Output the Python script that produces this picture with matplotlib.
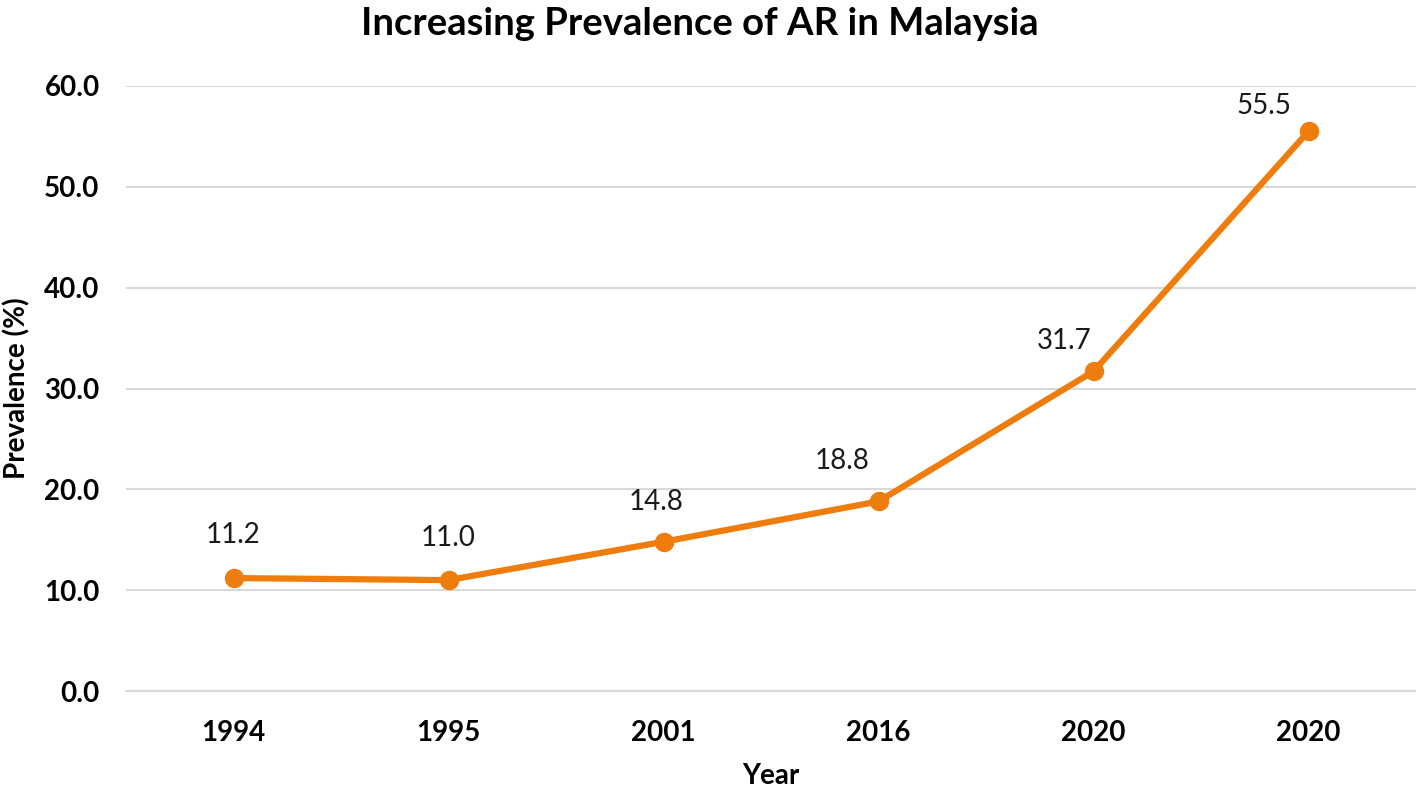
import matplotlib.pyplot as plt

years = ["1994", "1995", "2001", "2016", "2020", "2020"]
prevalence = [11.2, 11.0, 14.8, 18.8, 31.7, 55.5]
y_ticks = [0, 10, 20, 30, 40, 50, 60]

# label offsets in points (dx, dy), hand-placed like in the original
label_offsets = [(0, 31), (0, 30), (-5, 29), (-26, 29), (-21, 22), (-32, 18)]

plt.rcParams["font.family"] = ["Lato", "DejaVu Sans"]
orange = "#EE7D0E"

fig = plt.figure(figsize=(14.16, 7.94), dpi=100)
ax = fig.add_axes([0.089, 0.1297, 0.911, 0.762])

x = list(range(len(years)))
ax.plot(x, prevalence, color=orange, lw=4.5, marker="o", ms=13,
        solid_capstyle="round", zorder=3)

for xi, v, (dx, dy) in zip(x, prevalence, label_offsets):
    ax.annotate(f"{v:.1f}", (xi, v), xytext=(dx, dy), textcoords="offset points",
                ha="center", va="center", fontsize=20, color="#1a1a1a")

ax.set_xlim(-0.5, len(years) - 0.5)
ax.set_ylim(0, 60)
ax.set_yticks(y_ticks)
ax.set_yticklabels([f"{t:.1f}" for t in y_ticks], fontsize=20, fontweight="bold")
ax.set_xticks(x)
ax.set_xticklabels(years, fontsize=20, fontweight="bold")
ax.tick_params(length=0)
ax.tick_params(axis="y", pad=19)
ax.tick_params(axis="x", pad=21)

ax.grid(axis="y", color="#D9D9D9", lw=1.5)
ax.set_axisbelow(True)
for s in ["top", "right", "left"]:
    ax.spines[s].set_visible(False)
ax.spines["bottom"].set_color("#D9D9D9")
ax.spines["bottom"].set_linewidth(1.5)

ax.set_xlabel("Year", fontsize=20, fontweight="bold", labelpad=12)
ax.set_ylabel("Prevalence (%)", fontsize=20, fontweight="bold", labelpad=10)
fig.text(0.494, 0.97, "Increasing Prevalence of AR in Malaysia",
         ha="center", va="center", fontsize=27.5, fontweight="bold")

fig.savefig("out.png", dpi=100)
